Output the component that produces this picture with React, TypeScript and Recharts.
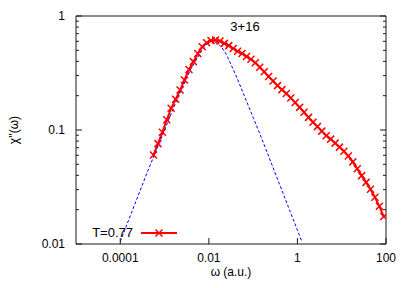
import React from 'react';
import { LineChart, Line, XAxis, YAxis } from 'recharts';

const FONT = '"Liberation Sans", Arial, Helvetica, sans-serif';

// simulation data, T=0.77 (red crosses)
const omegaSim = [
  0.000562, 0.000708, 0.000891, 0.00112, 0.00141, 0.00178, 0.00224, 0.00282, 0.00355, 0.00447,
  0.00562, 0.00708, 0.00891, 0.0112, 0.0141, 0.0178, 0.0224, 0.0282, 0.0355, 0.0447,
  0.0562, 0.0708, 0.0891, 0.112, 0.141, 0.178, 0.224, 0.282, 0.355, 0.447,
  0.562, 0.708, 0.891, 1.12, 1.41, 1.78, 2.24, 2.82, 3.55, 4.47,
  5.62, 7.08, 8.91, 11.2, 14.1, 17.8, 22.4, 28.2, 35.5, 44.7,
  56.2, 70.8, 89.1,
];
const chiSim = [
  0.0603, 0.0759, 0.0955, 0.123, 0.155, 0.186, 0.224, 0.275, 0.339, 0.398,
  0.468, 0.537, 0.582, 0.61, 0.617, 0.603, 0.575, 0.55, 0.519, 0.49,
  0.468, 0.442, 0.417, 0.389, 0.355, 0.324, 0.295, 0.269, 0.245, 0.226,
  0.209, 0.191, 0.174, 0.158, 0.143, 0.129, 0.117, 0.107, 0.0977, 0.0891,
  0.0832, 0.0767, 0.0708, 0.065, 0.0592, 0.0525, 0.0457, 0.0398, 0.0347, 0.0302,
  0.0257, 0.0214, 0.0174,
];

// fitted peak (blue dashed)
const omegaFit = [
  0.0001, 0.000158, 0.000251, 0.000398, 0.000631, 0.001, 0.00158, 0.00251, 0.00398, 0.00631,
  0.00794, 0.01, 0.0126, 0.0158, 0.02, 0.0251, 0.0398, 0.0631, 0.1, 0.158,
  0.251, 0.398, 0.631, 1.0, 1.26,
];
const chiFit = [
  0.0105, 0.0166, 0.0263, 0.0417, 0.0646, 0.1, 0.155, 0.234, 0.347, 0.468,
  0.537, 0.589, 0.603, 0.575, 0.525, 0.457, 0.309, 0.2, 0.129, 0.0832,
  0.0525, 0.0331, 0.0209, 0.0132, 0.0105,
];

const xDomain = [0.00001, 100];
const yDomain = [0.01, 1];
const xTicks = [0.0001, 0.01, 1, 100];
const xTickLabels = ['0.0001', '0.01', '1', '100'];
const yTicks = [0.01, 0.1, 1];
const yTickLabels = ['0.01', '0.1', '1'];
const yMinorTicks = [
  0.02, 0.03, 0.04, 0.05, 0.06, 0.07, 0.08, 0.09,
  0.2, 0.3, 0.4, 0.5, 0.6, 0.7, 0.8, 0.9,
];
const yAllTicks = [...yTicks, ...yMinorTicks].sort((a, b) => a - b);

const legendLabel = 'T=0.77';
const title = '3+16';

const simData = omegaSim.map((w, i) => ({ w, chi: chiSim[i] }));
const fitData = omegaFit.map((w, i) => ({ w, chi: chiFit[i] }));

const RED = '#ff0000';
const BLUE = '#0000ff';
const FRAME = '#1a1a1a';
const MAJOR = 6;
const MINOR = 3;
const frameLine = { stroke: FRAME, strokeWidth: 1 };

const Cross = (props: any) => {
  const { cx, cy } = props;
  if (cx == null || cy == null) return <g />;
  const s = 3.5;
  return (
    <path
      d={`M${cx - s},${cy - s}L${cx + s},${cy + s}M${cx - s},${cy + s}L${cx + s},${cy - s}`}
      stroke={RED}
      strokeWidth={1.5}
      fill="none"
    />
  );
};

// ticks point into the plot, labels sit outside (gnuplot style)
const BottomTick = (props: any) => {
  const { x, y, payload } = props;
  const i = xTicks.indexOf(payload.value);
  return (
    <g>
      <line x1={x} y1={y} x2={x} y2={y - MAJOR} stroke={FRAME} strokeWidth={1} />
      <text x={x} y={y + 17.5} textAnchor="middle" fontFamily={FONT} fontSize={12} fill="#000">
        {i >= 0 ? xTickLabels[i] : ''}
      </text>
    </g>
  );
};

const TopTick = (props: any) => {
  const { x, y } = props;
  return <line x1={x} y1={y} x2={x} y2={y + MAJOR} stroke={FRAME} strokeWidth={1} />;
};

const LeftTick = (props: any) => {
  const { x, y, payload } = props;
  const i = yTicks.indexOf(payload.value);
  return (
    <g>
      <line x1={x} y1={y} x2={x + (i >= 0 ? MAJOR : MINOR)} y2={y} stroke={FRAME} strokeWidth={1} />
      {i >= 0 && (
        <text x={x - 11} y={y} dy="0.355em" textAnchor="end" fontFamily={FONT} fontSize={12} fill="#000">
          {yTickLabels[i]}
        </text>
      )}
    </g>
  );
};

const RightTick = (props: any) => {
  const { x, y, payload } = props;
  const len = yTicks.includes(payload.value) ? MAJOR : MINOR;
  return <line x1={x} y1={y} x2={x - len} y2={y} stroke={FRAME} strokeWidth={1} />;
};

export default function App() {
  return (
    <div style={{ position: 'absolute', left: 0, top: 0, width: 411, height: 288, background: '#fff' }}>
      <LineChart width={411} height={288} margin={{ top: 0, right: 0, left: 0, bottom: 0 }}>
        <XAxis
          xAxisId="x"
          type="number"
          dataKey="w"
          scale="log"
          domain={xDomain}
          allowDataOverflow
          ticks={xTicks}
          interval={0}
          height={44}
          tickLine={false}
          axisLine={frameLine}
          tickSize={0}
          tickMargin={0}
          tick={<BottomTick />}
          label={{ value: 'ω (a.u.)', position: 'insideBottom', offset: 12, style: { fontFamily: FONT, fontSize: 12, fill: '#000' } }}
        />
        <XAxis
          xAxisId="top"
          orientation="top"
          type="number"
          scale="log"
          domain={xDomain}
          allowDataOverflow
          ticks={xTicks}
          interval={0}
          height={16}
          tickLine={false}
          axisLine={frameLine}
          tickSize={0}
          tickMargin={0}
          tick={<TopTick />}
        />
        <YAxis
          yAxisId="y"
          type="number"
          scale="log"
          domain={yDomain}
          allowDataOverflow
          ticks={yAllTicks}
          interval={0}
          width={76}
          tickLine={false}
          axisLine={frameLine}
          tickSize={0}
          tickMargin={0}
          tick={<LeftTick />}
          label={{ value: "χ''(ω)", angle: -90, position: 'insideLeft', offset: 14, style: { fontFamily: FONT, fontSize: 12, fill: '#000', textAnchor: 'middle' } }}
        />
        <YAxis
          yAxisId="right"
          orientation="right"
          type="number"
          scale="log"
          domain={yDomain}
          allowDataOverflow
          ticks={yAllTicks}
          interval={0}
          width={25}
          tickLine={false}
          axisLine={frameLine}
          tickSize={0}
          tickMargin={0}
          tick={<RightTick />}
        />
        <Line
          xAxisId="x"
          yAxisId="y"
          data={simData}
          dataKey="chi"
          type="linear"
          stroke={RED}
          strokeWidth={2}
          dot={<Cross />}
          activeDot={false}
          isAnimationActive={false}
        />
        <Line
          xAxisId="x"
          yAxisId="y"
          data={fitData}
          dataKey="chi"
          type="linear"
          stroke={BLUE}
          strokeWidth={1}
          strokeDasharray="3 2"
          dot={false}
          activeDot={false}
          isAnimationActive={false}
        />
      </LineChart>
      <div
        style={{
          position: 'absolute', left: 215, top: 19, width: 60, textAlign: 'center',
          fontFamily: FONT, fontSize: 13, lineHeight: '16px', color: '#000',
        }}
      >
        {title}
      </div>
      <div
        style={{
          position: 'absolute', left: 60, top: 225, width: 73, textAlign: 'right',
          fontFamily: FONT, fontSize: 13, lineHeight: '16px', color: '#000',
        }}
      >
        {legendLabel}
      </div>
      <svg style={{ position: 'absolute', left: 140, top: 227 }} width={38} height={12}>
        <line x1={1} y1={6} x2={37} y2={6} stroke={RED} strokeWidth={2} />
        <path d="M15.5,2.5L22.5,9.5M15.5,9.5L22.5,2.5" stroke={RED} strokeWidth={1.5} fill="none" />
      </svg>
    </div>
  );
}
